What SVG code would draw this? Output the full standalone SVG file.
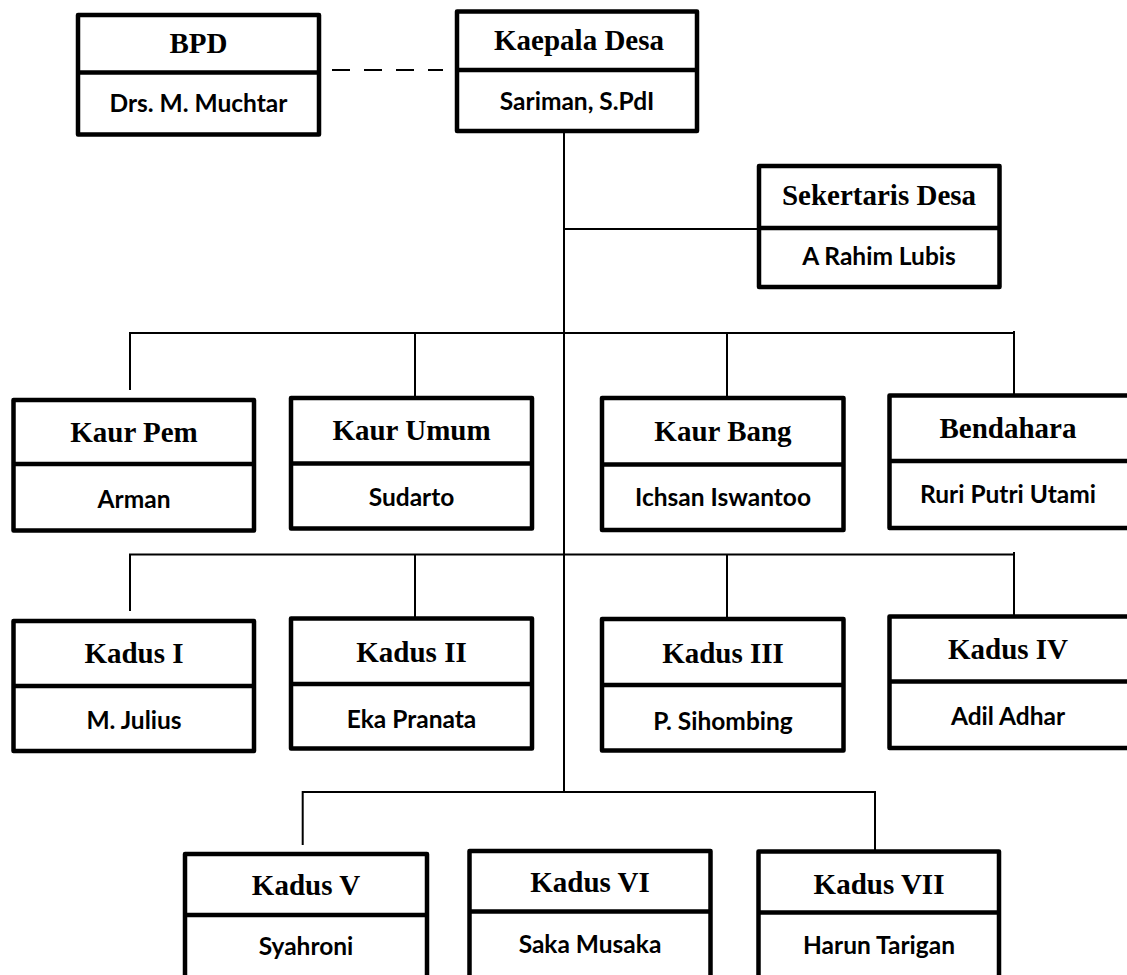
<svg xmlns="http://www.w3.org/2000/svg" width="1127" height="975" viewBox="0 0 1127 975">
<style>
.box{fill:#fff;stroke:#000;stroke-width:4.5;stroke-linejoin:round}
.div{stroke:#000;stroke-width:4.5}
.t{font-family:"Liberation Serif","Times New Roman",serif;font-weight:bold;font-size:29px;text-anchor:middle;fill:#000}
.n{font-family:Lato,"Liberation Sans",sans-serif;font-weight:bold;font-size:24.5px;text-anchor:middle;fill:#000}
.c{fill:none;stroke:#000;stroke-width:2}
</style>
<rect width="1127" height="975" fill="#fff"/>
<g id="connectors">
<path class="c" d="M332 70 H443" stroke-dasharray="18,14"/>
<path class="c" d="M564 131 V792"/>
<path class="c" d="M564 229 H759"/>
<path class="c" d="M130 390 V333 H1014 M415 333 V398 M727 333 V398 M1014 331 V395.5"/>
<path class="c" d="M130 611 V554.5 H1014 M415 554.5 V618.5 M727 554.5 V619 M1014 552 V616.5"/>
<path class="c" d="M302.7 845 V792 H875 V851.5"/>
</g>
<g id="bpd">
<rect class="box" x="78" y="15" width="241" height="119.5"/>
<line class="div" x1="78" y1="72.5" x2="319" y2="72.5"/>
<text class="t" x="198.5" y="53">BPD</text>
<text class="n" x="198.5" y="111.5">Drs. M. Muchtar</text>
</g>
<g id="kepala-desa">
<rect class="box" x="457" y="11.5" width="240" height="119.5"/>
<line class="div" x1="457" y1="70" x2="697" y2="70"/>
<text class="t" x="579" y="50">Kaepala Desa</text>
<text class="n" x="577" y="110">Sariman, S.PdI</text>
</g>
<g id="sekertaris-desa">
<rect class="box" x="759" y="166" width="240.5" height="121"/>
<line class="div" x1="759" y1="228" x2="999.5" y2="228"/>
<text class="t" x="879" y="205">Sekertaris Desa</text>
<text class="n" x="879" y="265">A Rahim Lubis</text>
</g>
<g id="kaur-pem">
<rect class="box" x="13.5" y="400" width="240.5" height="130.5"/>
<line class="div" x1="13.5" y1="464" x2="254" y2="464"/>
<text class="t" x="134" y="441.5">Kaur Pem</text>
<text class="n" x="134" y="507.5">Arman</text>
</g>
<g id="kaur-umum">
<rect class="box" x="291" y="398" width="241" height="130.5"/>
<line class="div" x1="291" y1="463.5" x2="532" y2="463.5"/>
<text class="t" x="411.5" y="439.5">Kaur Umum</text>
<text class="n" x="411.5" y="505.5">Sudarto</text>
</g>
<g id="kaur-bang">
<rect class="box" x="602" y="398" width="241.5" height="132"/>
<line class="div" x1="602" y1="464.5" x2="843.5" y2="464.5"/>
<text class="t" x="723" y="441">Kaur Bang</text>
<text class="n" x="723" y="506">Ichsan  Iswantoo</text>
</g>
<g id="bendahara">
<rect class="box" x="889.5" y="395.5" width="240" height="132.5"/>
<line class="div" x1="889.5" y1="461" x2="1129.5" y2="461"/>
<text class="t" x="1008" y="437.5">Bendahara</text>
<text class="n" x="1008" y="502.5">Ruri Putri Utami</text>
</g>
<g id="kadus-1">
<rect class="box" x="13.5" y="621" width="240.5" height="130"/>
<line class="div" x1="13.5" y1="686" x2="254" y2="686"/>
<text class="t" x="134" y="663">Kadus I</text>
<text class="n" x="134" y="729">M. Julius</text>
</g>
<g id="kadus-2">
<rect class="box" x="291" y="618.5" width="241" height="130"/>
<line class="div" x1="291" y1="684" x2="532" y2="684"/>
<text class="t" x="411.5" y="661.5">Kadus II</text>
<text class="n" x="411.5" y="727.5">Eka Pranata</text>
</g>
<g id="kadus-3">
<rect class="box" x="602" y="619" width="241.5" height="131.5"/>
<line class="div" x1="602" y1="685" x2="843.5" y2="685"/>
<text class="t" x="723" y="663">Kadus III</text>
<text class="n" x="723" y="730">P. Sihombing</text>
</g>
<g id="kadus-4">
<rect class="box" x="889.5" y="616.5" width="240" height="131.5"/>
<line class="div" x1="889.5" y1="681.5" x2="1129.5" y2="681.5"/>
<text class="t" x="1008" y="659">Kadus IV</text>
<text class="n" x="1008" y="724.5">Adil Adhar</text>
</g>
<g id="kadus-5">
<rect class="box" x="185" y="854" width="242" height="131"/>
<line class="div" x1="185" y1="915" x2="427" y2="915"/>
<text class="t" x="306" y="895">Kadus V</text>
<text class="n" x="306" y="955">Syahroni</text>
</g>
<g id="kadus-6">
<rect class="box" x="469.5" y="851" width="241" height="134"/>
<line class="div" x1="469.5" y1="911.5" x2="710.5" y2="911.5"/>
<text class="t" x="590" y="892">Kadus VI</text>
<text class="n" x="590" y="953">Saka Musaka</text>
</g>
<g id="kadus-7">
<rect class="box" x="758.5" y="851.5" width="240.5" height="133.5"/>
<line class="div" x1="758.5" y1="912.5" x2="999" y2="912.5"/>
<text class="t" x="879" y="893.5">Kadus VII</text>
<text class="n" x="879" y="953.5">Harun Tarigan</text>
</g>
</svg>
